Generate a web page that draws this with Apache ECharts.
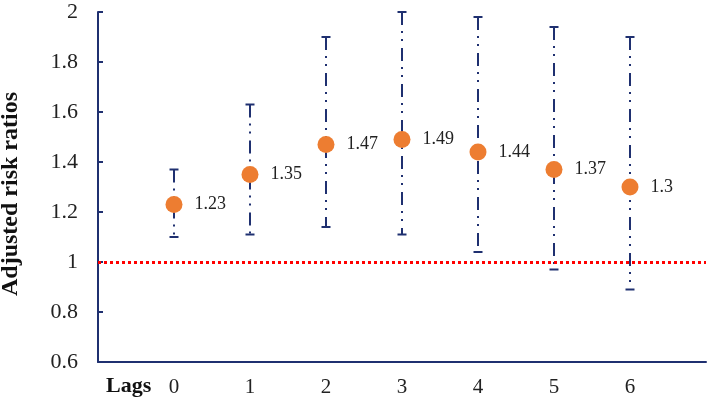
<!DOCTYPE html>
<html>
<head>
<meta charset="utf-8">
<script src="https://cdn.jsdelivr.net/npm/echarts@6/dist/echarts.min.js"></script>
<style>
html, body { margin: 0; padding: 0; background: #fff; }
#main { width: 709px; height: 401px; }
</style>
</head>
<body>
<div id="main"></div>
<script>
var lags = [0, 1, 2, 3, 4, 5, 6];
var rr = [1.23, 1.35, 1.47, 1.49, 1.44, 1.37, 1.3];
var lower = [1.10, 1.11, 1.14, 1.11, 1.04, 0.97, 0.89];
var upper = [1.37, 1.63, 1.90, 2.00, 1.98, 1.94, 1.90];

var navy = '#1F3070';
var serif = '"Liberation Serif", "Times New Roman", serif';

var points = lags.map(function (l, i) { return [l, rr[i]]; });
var bars = lags.map(function (l, i) { return [l, lower[i], upper[i]]; });

var chart = echarts.init(document.getElementById('main'));
chart.setOption({
    animation: false,
    grid: { left: 98, right: 3, top: 12, bottom: 39, containLabel: false, outerBoundsMode: 'none' },
    xAxis: {
        type: 'value',
        min: -1, max: 7, interval: 1,
        axisLine: { onZero: false, lineStyle: { color: navy, width: 2 } },
        axisTick: { show: false },
        splitLine: { show: false },
        axisLabel: {
            margin: 15,
            color: '#222',
            fontFamily: serif,
            fontSize: 21,
            formatter: function (v) { return (v < 0 || v > 6) ? '' : v; }
        }
    },
    yAxis: {
        type: 'value',
        min: 0.6, max: 2, interval: 0.2,
        axisLine: { show: true, onZero: false, lineStyle: { color: navy, width: 2 } },
        axisTick: { show: true, inside: true, length: 5, lineStyle: { color: navy, width: 2 } },
        splitLine: { show: false },
        axisLabel: {
            margin: 20,
            color: '#222',
            fontFamily: serif,
            fontSize: 22,
            formatter: function (v) { return +v.toFixed(1); }
        }
    },
    graphic: [{
        type: 'text',
        left: 106, top: 375,
        style: { text: 'Lags', font: 'bold 22px ' + serif, fill: '#111' }
    }, {
        // y axis title, rotated
        type: 'text',
        x: 11, y: 194,
        rotation: Math.PI / 2,
        style: {
            text: 'Adjusted risk ratios',
            font: 'bold 24px ' + serif,
            fill: '#111',
            align: 'center',
            verticalAlign: 'middle'
        }
    }],
    series: [{
        type: 'custom',
        data: bars,
        z: 2,
        renderItem: function (params, api) {
            var x = api.value(0);
            var lo = api.coord([x, api.value(1)]);
            var hi = api.coord([x, api.value(2)]);
            var style = { stroke: navy, lineWidth: 2 };
            return {
                type: 'group',
                children: [
                    { type: 'line', shape: { x1: hi[0], y1: hi[1], x2: lo[0], y2: lo[1] },
                      style: { stroke: navy, lineWidth: 2, lineDash: [13, 6, 2, 6, 2, 7] } },
                    { type: 'line', shape: { x1: hi[0] - 4.5, y1: hi[1], x2: hi[0] + 4.5, y2: hi[1] }, style: style },
                    { type: 'line', shape: { x1: lo[0] - 4.5, y1: lo[1], x2: lo[0] + 4.5, y2: lo[1] }, style: style }
                ]
            };
        }
    }, {
        type: 'scatter',
        data: points,
        z: 3,
        symbolSize: 17,
        itemStyle: { color: '#ED7D31', opacity: 1 },
        label: {
            show: true,
            position: 'right',
            distance: 12,
            color: '#222',
            fontFamily: serif,
            fontSize: 18,
            formatter: function (p) { return p.value[1]; }
        },
        markLine: {
            silent: true,
            symbol: 'none',
            label: { show: false },
            lineStyle: { color: '#FF0000', width: 3, type: [3, 3] },
            data: [{ yAxis: 1 }]
        }
    }]
});
</script>
</body>
</html>
